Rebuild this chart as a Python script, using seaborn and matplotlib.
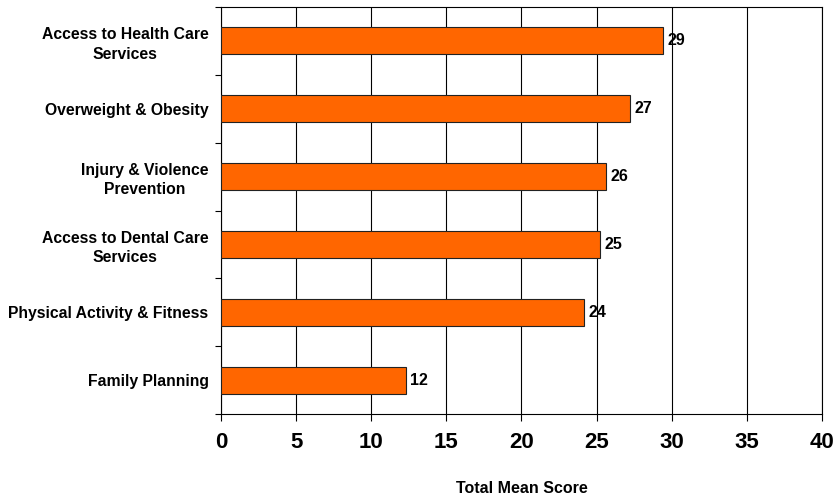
import matplotlib
matplotlib.use("Agg")
import matplotlib.pyplot as plt
import seaborn as sns
import pandas as pd
import numpy as np

# Datos
categorias = [
    "Access to Health Care\nServices",
    "Overweight & Obesity",
    "Injury & Violence\nPrevention",
    "Access to Dental Care\nServices",
    "Physical Activity & Fitness",
    "Family Planning",
]
puntajes = [29.4, 27.2, 25.6, 25.2, 24.2, 12.3]
etiquetas = ["29", "27", "26", "25", "24", "12"]
ticks_x = [0, 5, 10, 15, 20, 25, 30, 35, 40]

sns.set_theme(style="white")
plt.rcParams['font.family'] = ['Liberation Sans', 'DejaVu Sans']
plt.rcParams.update({'text.color': 'black', 'axes.labelcolor': 'black',
                     'xtick.color': 'black', 'ytick.color': 'black'})

df = pd.DataFrame({"Categoria": categorias, "Puntaje": puntajes})

fig = plt.figure(figsize=(8.36, 4.96), dpi=100)
ax = fig.add_axes([0.2644, 0.165, 0.7186, 0.821])

sns.barplot(data=df, x="Puntaje", y="Categoria", orient="h", color="#FF6600",
            saturation=1, edgecolor="#222222", linewidth=0.8, width=0.4, ax=ax, zorder=3)

ax.set_xlim(0, 40)
ax.set_ylim(len(categorias) - 0.5, -0.5)
ax.set_xticks(ticks_x)
ax.set_xticklabels([str(t) for t in ticks_x], fontsize=16, fontweight='bold')
ax.tick_params(axis='x', length=5, width=0.8, color='black', pad=8, direction='out', bottom=True)

# Etiquetas del eje y sin marca; marcas menores en los límites de categoría
ax.tick_params(axis='y', which='major', length=0, pad=9)
ax.set_yticks(np.arange(-0.5, len(categorias), 1.0), minor=True)
ax.tick_params(axis='y', which='minor', length=4, width=0.8, color='black', direction='out', left=True)
for lbl in ax.get_yticklabels():
    lbl.set_fontsize(11.3)
    lbl.set_fontweight('bold')
    lbl.set_multialignment('center')
    lbl.set_linespacing(1.35)

ax.xaxis.grid(True, color='black', linewidth=0.8, zorder=0)
ax.yaxis.grid(False)
for s in ax.spines.values():
    s.set_visible(True)
    s.set_color('black')
    s.set_linewidth(0.8)

ax.set_ylabel("")
ax.set_xlabel("Total Mean Score", fontsize=11.5, fontweight='bold', labelpad=20)

# Valores al final de cada barra
for i, (v, t) in enumerate(zip(puntajes, etiquetas)):
    ax.text(v + 0.3, i, t, va='center', ha='left', fontsize=11.5, fontweight='bold', zorder=4)

plt.savefig("out.png", dpi=100)
plt.close()
